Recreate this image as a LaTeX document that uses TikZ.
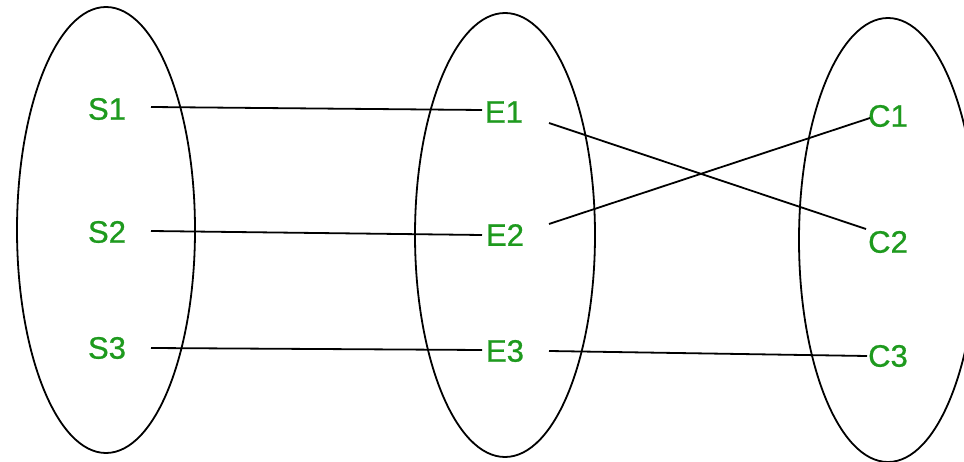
\documentclass[tikz,border=0pt]{standalone}
\usepackage{fontspec}
\setmainfont{Liberation Sans}
\newfontfamily\lblfont[FakeBold=0.8]{Liberation Sans}
\definecolor{lblgreen}{HTML}{1E9A1E}
\tikzset{
  lbl/.style={text=lblgreen, inner sep=0pt, font=\lblfont\fontsize{31}{33}\selectfont},
  setring/.style={draw=black, line width=1.8pt},
  conn/.style={draw=black, line width=1.8pt}
}
\begin{document}
\begin{tikzpicture}[x=1pt, y=-1pt]
\useasboundingbox (0,0) rectangle (964,462);
\clip (0,0) rectangle (964,462);
\fill[white] (0,0) rectangle (964,462);
% sets
\draw[setring] (106,230) ellipse [x radius=89pt, y radius=223pt];
\draw[setring] (505,235) ellipse [x radius=90pt, y radius=222pt];
\draw[setring] (888,240) ellipse [x radius=89pt, y radius=222pt];
% labels
\node[lbl] (S1) at (107,109) {S1};
\node[lbl] (S2) at (107,232) {S2};
\node[lbl] (S3) at (107,348) {S3};
\node[lbl] (E1) at (504,112) {E1};
\node[lbl] (E2) at (505,235) {E2};
\node[lbl] (E3) at (505,351) {E3};
\node[lbl] (C1) at (888,116) {C1};
\node[lbl] (C2) at (888,242) {C2};
\node[lbl] (C3) at (888,356) {C3};
% connectors
\draw[conn] ([shift={(44,-2)}]S1.center) -- ([shift={(-22,-2)}]E1.center);
\draw[conn] ([shift={(44,-1)}]S2.center) -- ([shift={(-23,0)}]E2.center);
\draw[conn] ([shift={(44,0)}]S3.center) -- ([shift={(-23,-1)}]E3.center);
\draw[conn] ([shift={(45,11)}]E1.center) -- ([shift={(-22,-13)}]C2.center);
\draw[conn] ([shift={(44,-11)}]E2.center) -- ([shift={(-18,2)}]C1.center);
\draw[conn] ([shift={(44,0)}]E3.center) -- ([shift={(-21,0)}]C3.center);
\end{tikzpicture}
\end{document}
